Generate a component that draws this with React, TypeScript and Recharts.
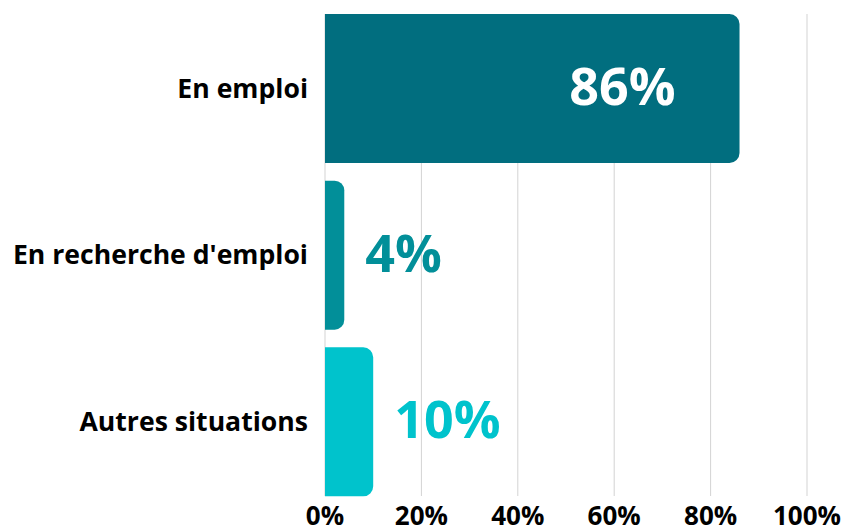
import React from "react"
import { BarChart, Bar, XAxis, YAxis, CartesianGrid, Cell, LabelList } from "recharts"

const categories = ["En emploi", "En recherche d'emploi", "Autres situations"]
const values = [86, 4, 10]
const barColors = ["#016E7F", "#028F99", "#00C3CC"]
const xTicks = [0, 20, 40, 60, 80, 100]

const data = categories.map((name, i) => ({ name, value: values[i] }))

const FONT = "'Open Sans', sans-serif"

// big bar gets its label inside in white, small bars get it outside in their own colour
function ValueLabel(props: any) {
  const { x, y, width, height, value, index } = props
  const inside = value > 50
  const cy = y + height / 2 - 4
  return (
    <text
      x={inside ? x + width - 64 : x + width + 21}
      y={cy}
      textAnchor={inside ? "end" : "start"}
      dominantBaseline="central"
      fill={inside ? "#FFFFFF" : barColors[index]}
      fontFamily={FONT}
      fontWeight={700}
      fontSize={52}
    >
      {value}%
    </text>
  )
}

export default function App() {
  return (
    <div style={{ position: "absolute", left: 0, top: 0, background: "#fff" }}>
      <BarChart
        width={844}
        height={529}
        data={data}
        layout="vertical"
        margin={{ top: 14, right: 37, bottom: 0, left: 0 }}
        barCategoryGap={9}
      >
        <CartesianGrid horizontal={false} stroke="#D3D3D3" />
        <XAxis
          type="number"
          domain={[0, 100]}
          ticks={xTicks}
          tickFormatter={(v: number) => `${v}%`}
          axisLine={false}
          tickLine={false}
          tickMargin={5}
          height={33}
          tick={{ fill: "#000", fontFamily: FONT, fontWeight: 700, fontSize: 26 }}
        />
        <YAxis
          type="category"
          dataKey="name"
          width={325}
          axisLine={false}
          tickLine={false}
          tickMargin={11}
          padding={{ top: -9, bottom: -9 }}
          tick={{ fill: "#000", fontFamily: FONT, fontWeight: 700, fontSize: 26.6 }}
        />
        <Bar dataKey="value" radius={[0, 10, 10, 0]} isAnimationActive={false}>
          {data.map((d, i) => (
            <Cell key={d.name} fill={barColors[i]} />
          ))}
          <LabelList dataKey="value" content={<ValueLabel />} />
        </Bar>
      </BarChart>
    </div>
  )
}
